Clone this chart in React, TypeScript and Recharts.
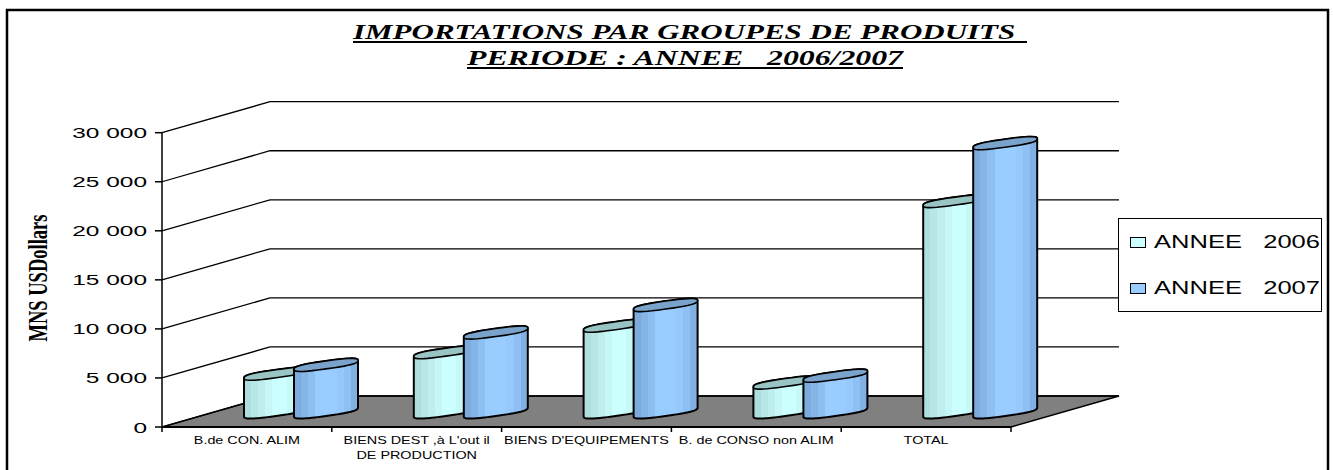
import React from "react";
import { BarChart, Bar, XAxis, YAxis, CartesianGrid, Legend, Customized } from "recharts";

const categories = ["B.de CON. ALIM", "BIENS DEST ,à L'out il|DE PRODUCTION", "BIENS D'EQUIPEMENTS", "B. de CONSO non ALIM", "TOTAL"];
const values2006 = [3900, 6100, 8800, 3000, 21500];
const values2007 = [4800, 8100, 10900, 3700, 27400];
const yTicks = [0, 5000, 10000, 15000, 20000, 25000, 30000];
const name2006 = "ANNEE   2006";
const name2007 = "ANNEE   2007";
const titleLines = ["IMPORTATIONS PAR GROUPES DE PRODUITS ", "PERIODE : ANNEE   2006/2007"];
const yTitle = "MNS USDollars";

const data = categories.map((c, i) => ({ category: c, y2006: values2006[i], y2007: values2007[i] }));

const DEPTH_X = 108;
const DEPTH_Y = 31;
const BAR_SHIFT_X = 54;
const BAR_SHIFT_Y = 15;
const TILT = 4.4;
const MINOR = 4;
const ROUND = 0.72;

const bands2006 = ["#AEDEDE", "#B6E6E6", "#BEEEEE", "#C6F6F6", "#CCFFFF", "#CCFFFF", "#C6F8F8", "#BEEEEE", "#B6E6E6"];
const bands2007 = ["#7DABDD", "#85B5E7", "#8DBFF1", "#99CCFF", "#99CCFF", "#99CCFF", "#96C8FB", "#8FC0F3", "#82B0E3"];

const Bands = ({ id, colors }: { id: string; colors: string[] }) => (
  <linearGradient id={id} x1="0" y1="0" x2="1" y2="0">
    {colors.flatMap((c, i) => [
      <stop key={i + "a"} offset={i / colors.length} stopColor={c} />,
      <stop key={i + "b"} offset={(i + 1) / colors.length} stopColor={c} />,
    ])}
  </linearGradient>
);

const spow = (v: number) => Math.sign(v) * Math.pow(Math.abs(v), ROUND);

// Outline of a skewed, slightly squared ellipse between two angles.
const ringPoints = (cx: number, cy: number, w: number, from: number, to: number) => {
  const pts: string[] = [];
  const n = 40;
  for (let i = 0; i <= n; i++) {
    const t = from + ((to - from) * i) / n;
    const X = spow(Math.cos(t));
    const S = spow(Math.sin(t));
    pts.push(`${(cx + (X * w) / 2).toFixed(2)} ${(cy - TILT * X + MINOR * S).toFixed(2)}`);
  }
  return pts;
};

const Cylinder = (props: any) => {
  const { x, y, width, height, grad, top } = props;
  const cx = x + BAR_SHIFT_X + width / 2;
  const topY = y - BAR_SHIFT_Y;
  const baseY = y + height - BAR_SHIFT_Y;
  const lower = ringPoints(cx, baseY, width, Math.PI, 0);
  const upper = ringPoints(cx, topY, width, 0, -Math.PI);
  const body = `M ${lower.join(" L ")} L ${upper.join(" L ")} Z`;
  const cap = `M ${ringPoints(cx, topY, width, 0, 2 * Math.PI).join(" L ")} Z`;
  return (
    <g>
      <path d={body} fill={`url(#${grad})`} stroke="#000" strokeWidth={2} strokeLinejoin="round" />
      <path d={cap} fill={top} stroke="#000" strokeWidth={1.6} strokeLinejoin="round" />
    </g>
  );
};

const WallLine = (props: any) => {
  const { x1, x2, y1, index } = props;
  const bx = x1 + DEPTH_X;
  const by = y1 - DEPTH_Y;
  return (
    <g>
      {index === 0 && (
        <path
          d={`M ${x1} ${y1} L ${bx} ${by} L ${x2 + DEPTH_X} ${by} L ${x2} ${y1} Z`}
          fill="#808080"
          stroke="#000"
          strokeWidth={1.5}
        />
      )}
      <path d={`M ${x1} ${y1} L ${bx} ${by} L ${x2 + DEPTH_X} ${by}`} fill="none" stroke="#000" strokeWidth={1.3} />
    </g>
  );
};

const YTick = (props: any) => {
  const { x, y, payload } = props;
  const label = String(payload.value).replace(/\B(?=(\d{3})+$)/g, " ");
  return (
    <text
      transform={`translate(${x},${y + 5.5}) scale(1.63,1)`}
      textAnchor="end"
      fontFamily="Liberation Sans"
      fontSize={15}
      fill="#000"
    >
      {label}
    </text>
  );
};

const XTick = (props: any) => {
  const { x, y, payload, index, visibleTicksCount } = props;
  const band = 849 / 5;
  const lines = String(payload.value).split("|");
  return (
    <g>
      <line x1={x - band / 2} x2={x - band / 2} y1={y - 6} y2={y - 1} stroke="#000" strokeWidth={1.5} />
      {index === visibleTicksCount - 1 && (
        <line x1={x + band / 2} x2={x + band / 2} y1={y - 6} y2={y - 1} stroke="#000" strokeWidth={1.5} />
      )}
      {lines.map((l, i) => (
        <text
          key={i}
          transform={`translate(${x},${y + 11 + i * 15}) scale(1.37,1)`}
          textAnchor="middle"
          fontFamily="Liberation Sans"
          fontSize={10.5}
          fill="#000"
        >
          {l}
        </text>
      ))}
    </g>
  );
};

const LegendBox = ({ payload }: any) => (
  <div
    style={{
      boxSizing: "border-box",
      width: 204,
      height: 94,
      background: "#fff",
      border: "1.5px solid #000",
      position: "relative",
    }}
  >
    {(payload || []).map((p: any, i: number) => (
      <div key={p.value} style={{ position: "absolute", left: 11, top: 17 + i * 46, height: 12, display: "flex", alignItems: "center" }}>
        <span style={{ display: "inline-block", boxSizing: "border-box", width: 16, height: 11, background: p.color, border: "1.5px solid #000" }} />
        <svg width={172} height={24} style={{ marginLeft: 8, overflow: "visible" }}>
          <text x={0} y={18} fontFamily="Liberation Sans" fontSize={18} textLength={166} lengthAdjust="spacingAndGlyphs" xmlSpace="preserve" style={{ whiteSpace: "pre" }} fill="#000">
            {p.value}
          </text>
        </svg>
      </div>
    ))}
  </div>
);

const titleFont = { fontFamily: "Liberation Serif", fontWeight: "bold", fontStyle: "italic", fontSize: 20 } as const;

const Texts = () => (
  <g>
    <rect x={7} y={10} width={1321} height={480} fill="none" stroke="#000" strokeWidth={2.5} />
    <text x={353} y={38.5} {...titleFont} textLength={670} lengthAdjust="spacingAndGlyphs" style={{ whiteSpace: "pre" }}>
      {titleLines[0]}
    </text>
    <line x1={353} x2={1027} y1={42} y2={42} stroke="#000" strokeWidth={2} />
    <text x={467} y={64.5} {...titleFont} textLength={436} lengthAdjust="spacingAndGlyphs" style={{ whiteSpace: "pre" }}>
      {titleLines[1]}
    </text>
    <line x1={467} x2={903} y1={68} y2={68} stroke="#000" strokeWidth={2} />
    <text transform="translate(47,278) rotate(-90)" textAnchor="middle" fontFamily="Liberation Serif" fontWeight="bold" fontSize={27} textLength={127} lengthAdjust="spacingAndGlyphs">
      {yTitle}
    </text>
  </g>
);

export default function App() {
  return (
    <div style={{ position: "absolute", left: 0, top: 0 }}>
      <BarChart
        width={1333}
        height={470}
        data={data}
        margin={{ top: 132.7, right: 322, bottom: 0, left: 0 }}
        barSize={64}
        barGap={-14}
      >
        <defs>
          <Bands id="g2006" colors={bands2006} />
          <Bands id="g2007" colors={bands2007} />
        </defs>
        <CartesianGrid vertical={false} horizontal={(p: any) => <WallLine {...p} />} />
        <XAxis dataKey="category" height={43} axisLine={{ stroke: "#000", strokeWidth: 2 }} tickLine={false} tick={<XTick />} interval={0} tickMargin={0} />
        <YAxis
          width={162}
          domain={[0, 30000]}
          ticks={yTicks}
          axisLine={{ stroke: "#000", strokeWidth: 1.5 }}
          tickLine={{ stroke: "#000", strokeWidth: 1.5 }}
          tickSize={7}
          tickMargin={8}
          tick={<YTick />}
          interval={0}
        />
        <Bar dataKey="y2006" name={name2006} fill="#CCFFFF" isAnimationActive={false} shape={(p: any) => <Cylinder {...p} grad="g2006" top="#99C4C4" />} />
        <Bar dataKey="y2007" name={name2007} fill="#99CCFF" isAnimationActive={false} shape={(p: any) => <Cylinder {...p} grad="g2007" top="#7AA3CC" />} />
        <Legend
          layout="vertical"
          align="center"
          verticalAlign="middle"
          content={<LegendBox />}
          wrapperStyle={{ position: "absolute", left: 1118, top: 218, width: 204, height: 94, margin: 0 }}
        />
        <Customized component={Texts} />
      </BarChart>
    </div>
  );
}
